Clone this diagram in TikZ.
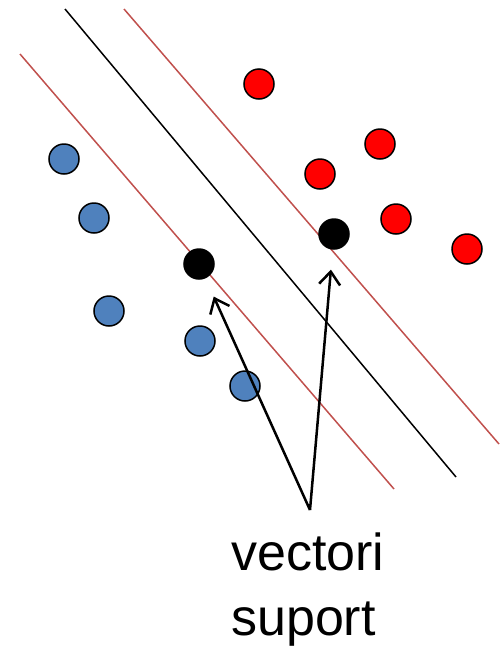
\documentclass[tikz,border=0pt]{standalone}
\usepackage{fontspec}
\setmainfont{Liberation Sans}
\usetikzlibrary{arrows.meta, positioning}
\definecolor{SvmBlue}{HTML}{4F81BD}
\definecolor{SvmRed}{HTML}{FF0000}
\definecolor{SvmMargin}{HTML}{C0504D}
\tikzset{
    % Point styles
    pointblue/.style={
        circle,
        draw=black,
        fill=SvmBlue,
        line width=1.5pt,
        minimum size=30pt,
        inner sep=0pt
    },
    pointred/.style={
        circle,
        draw=black,
        fill=SvmRed,
        line width=1.5pt,
        minimum size=30pt,
        inner sep=0pt
    },
    pointsupport/.style={
        circle,
        draw=black,
        fill=black,
        line width=1.5pt,
        minimum size=30pt,
        inner sep=0pt
    },
    % Line styles
    hyperplane/.style={
        line width=1.5pt,
        draw=black
    },
    marginline/.style={
        line width=1.5pt,
        draw=SvmMargin
    },
    pointer/.style={
        -{Straight Barb[length=13pt,width=21pt]},
        line width=2.5pt,
        draw=black,
        shorten >=20pt
    }
}

\begin{document}
\begin{tikzpicture}[x=1pt, y=-1pt]
    \useasboundingbox (0,0) rectangle (500,646);

    % separating lines
    \draw[marginline] (20,54) -- (394,489);
    \draw[hyperplane] (65,9) -- (456,477);
    \draw[marginline] (124,9) -- (499,444);

    \node[pointblue] (b1) at (64,159) {};
    \node[pointblue] (b2) at (94,218) {};
    \node[pointblue] (b3) at (109,311) {};
    \node[pointblue] (b4) at (200,341) {};
    \node[pointblue] (b5) at (245,386) {};

    \node[pointred] (r1) at (259,84) {};
    \node[pointred] (r2) at (380,144) {};
    \node[pointred] (r3) at (320,174) {};
    \node[pointred] (r4) at (396,219) {};
    \node[pointred] (r5) at (467,249) {};

    \node[pointsupport] (s1) at (199,264) {};
    \node[pointsupport] (s2) at (334,234) {};

    \node[anchor=north west, align=left, inner sep=0pt,
          font=\fontsize{52}{65}\selectfont] (label) at (231,533) {vectori\\suport};
    \coordinate (apex) at (310,510);

    \draw[pointer] (apex) -- (s1);
    \draw[pointer] (apex) -- (s2);
\end{tikzpicture}
\end{document}
